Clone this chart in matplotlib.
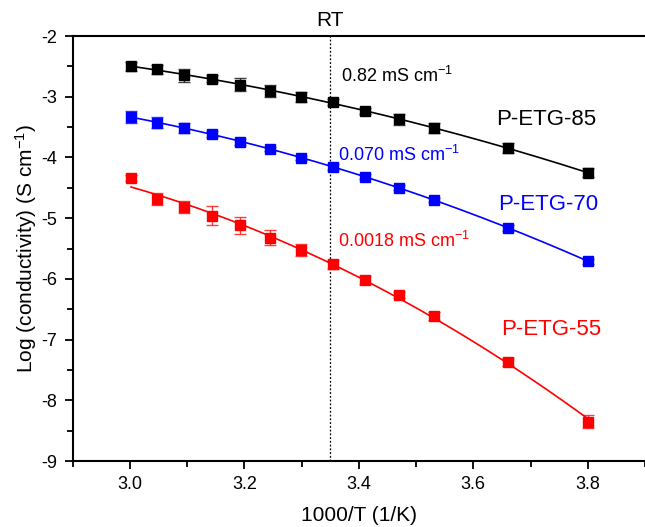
import numpy as np
import matplotlib
matplotlib.use("Agg")
import matplotlib.pyplot as plt
from matplotlib.ticker import MultipleLocator

plt.rcParams['font.family'] = ['Liberation Sans', 'DejaVu Sans']
plt.rcParams['mathtext.default'] = 'regular'

# 1000/T values (1/K)
inv_T = [3.002, 3.047, 3.095, 3.143, 3.193, 3.245, 3.299, 3.354, 3.411, 3.470, 3.532, 3.661, 3.800]

# log conductivity (S cm^-1)
etg85 = [-2.50, -2.55, -2.65, -2.70, -2.80, -2.90, -3.00, -3.09, -3.23, -3.37, -3.52, -3.85, -4.25]
etg85_err = [0.08, 0.07, 0.10, 0.05, 0.11, 0.10, 0.08, 0.05, 0.05, 0.09, 0.08, 0.08, 0.07]
etg70 = [-3.33, -3.43, -3.51, -3.62, -3.74, -3.86, -4.01, -4.15, -4.32, -4.50, -4.70, -5.16, -5.71]
etg70_err = [0.10, 0.09, 0.08, 0.05, 0.05, 0.04, 0.04, 0.05, 0.04, 0.04, 0.04, 0.05, 0.04]
etg55 = [-4.34, -4.69, -4.81, -4.96, -5.12, -5.32, -5.53, -5.76, -6.02, -6.27, -6.61, -7.37, -8.35]
etg55_err = [0.05, 0.10, 0.10, 0.16, 0.14, 0.12, 0.10, 0.07, 0.06, 0.05, 0.06, 0.06, 0.10]

names = ['P-ETG-85', 'P-ETG-70', 'P-ETG-55']
colors = ['black', '#0000ff', '#ff0000']
rt_labels = ['0.82 mS cm$^{-1}$', '0.070 mS cm$^{-1}$', '0.0018 mS cm$^{-1}$']
rt_x = 3.35

fig = plt.figure(figsize=(6.45, 5.27), dpi=100)
ax = fig.add_axes([72.7/645, 1-461/527, 1-72.7/645, (461-36)/527])

series = [(etg85, etg85_err), (etg70, etg70_err), (etg55, etg55_err)]
xs = np.array(inv_T)
for (vals, errs), c in zip(series, colors):
    ys = np.array(vals)
    coef = np.polyfit(xs, ys, 2)
    xf = np.linspace(xs.min(), xs.max(), 200)
    ax.plot(xf, np.polyval(coef, xf), color=c, lw=1.2, zorder=2)
    ax.errorbar(xs, ys, yerr=errs, fmt='none', ecolor=c, elinewidth=1.0,
                capsize=4.5, capthick=1.0, alpha=0.75, zorder=3)
    ax.plot(xs, ys, 's', color=c, ms=7.5, zorder=4)

ax.axvline(rt_x, color='black', ls=(0, (1.5, 1.5)), lw=0.9, zorder=1)

ax.text(rt_x, -1.74, 'RT', ha='center', va='center', fontsize=15)
ax.text(3.368, -2.66, rt_labels[0], color=colors[0], fontsize=13, va='center')
ax.text(3.364, -3.96, rt_labels[1], color=colors[1], fontsize=13, va='center')
ax.text(3.363, -5.38, rt_labels[2], color=colors[2], fontsize=13, va='center')
ax.text(3.64, -3.38, names[0], color=colors[0], fontsize=16, va='center')
ax.text(3.643, -4.78, names[1], color=colors[1], fontsize=16, va='center')
ax.text(3.648, -6.84, names[2], color=colors[2], fontsize=16, va='center')

ax.set_xlim(2.9, 3.9)
ax.set_ylim(-9, -2)
ax.xaxis.set_major_locator(MultipleLocator(0.2))
ax.xaxis.set_minor_locator(MultipleLocator(0.1))
ax.yaxis.set_major_locator(MultipleLocator(1))
ax.yaxis.set_minor_locator(MultipleLocator(0.5))
ax.xaxis.set_major_formatter(matplotlib.ticker.FormatStrFormatter('%.1f'))
ax.yaxis.set_major_formatter(matplotlib.ticker.FuncFormatter(lambda v, p: '%d' % v))

ax.spines['right'].set_visible(False)
for s in ['left', 'bottom', 'top']:
    ax.spines[s].set_linewidth(1.5)
ax.tick_params(which='both', direction='out', width=1.3, labelsize=13, top=False, right=False)
ax.tick_params(which='major', length=6, pad=5)
ax.tick_params(which='minor', length=4)

ax.set_xlabel('1000/T (1/K)', fontsize=15, labelpad=9)
ax.set_ylabel('Log (conductivity) (S cm$^{-1}$)', fontsize=15, labelpad=2)

fig.savefig('out.png', dpi=100)
